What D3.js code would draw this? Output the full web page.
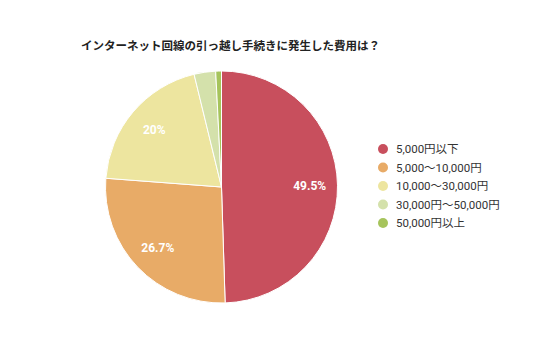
<!DOCTYPE html>
<html>
<head>
<meta charset="utf-8">
<script src="https://cdn.jsdelivr.net/npm/d3@7"></script>
<style>
  body { margin: 0; background: #fff; }
  svg { display: block; font-family: "Noto Sans CJK JP", "Noto Sans", sans-serif; }
</style>
</head>
<body>
<svg id="chart"></svg>
<script>
const title = "インターネット回線の引っ越し手続きに発生した費用は？";
const categories = ["5,000円以下", "5,000〜10,000円", "10,000〜30,000円", "30,000円〜50,000円", "50,000円以上"];
const values = [49.5, 26.7, 20, 3.0, 0.8];
const valueLabels = ["49.5%", "26.7%", "20%", "", ""];
const colors = ["#c84f5d", "#e8ab67", "#ede59f", "#d4e1ab", "#a6c45c"];

const width = 536;
const height = 357;
const cx = 221.5, cy = 187, radius = 116;

const svg = d3.select("#chart").attr("width", width).attr("height", height);

svg.append("text")
  .attr("x", 81)
  .attr("y", 50)
  .style("font-size", "11.5px")
  .style("font-weight", "bold")
  .attr("fill", "#222")
  .text(title);

const pie = d3.pie().sort(null).value(d => d);
const arcs = pie(values);

const arc = d3.arc().innerRadius(0).outerRadius(radius);
const labelArc = d3.arc().innerRadius(radius * 0.76).outerRadius(radius * 0.76);

const g = svg.append("g").attr("transform", `translate(${cx},${cy})`);

g.selectAll("path")
  .data(arcs)
  .join("path")
  .attr("d", arc)
  .attr("fill", (d, i) => colors[i])
  .attr("stroke", "#fff")
  .attr("stroke-width", 1);

g.selectAll("text")
  .data(arcs)
  .join("text")
  .attr("transform", d => `translate(${labelArc.centroid(d)})`)
  .attr("text-anchor", "middle")
  .attr("dy", "0.35em")
  .style("font-size", "12px")
  .style("font-weight", "bold")
  .style("font-family", "Roboto, sans-serif")
  .attr("fill", "#fff")
  .text((d, i) => valueLabels[i]);

const legend = svg.append("g").attr("transform", "translate(383,149)");
categories.forEach((c, i) => {
  const row = legend.append("g").attr("transform", `translate(0,${i * 18.5})`);
  row.append("circle").attr("r", 5).attr("fill", colors[i]);
  row.append("text")
    .attr("x", 13)
    .attr("dy", "0.36em")
    .style("font-size", "11.5px")
    .style("font-family", "Roboto, 'Noto Sans CJK JP', sans-serif")
    .attr("fill", "#333")
    .text(c);
});
</script>
</body>
</html>
